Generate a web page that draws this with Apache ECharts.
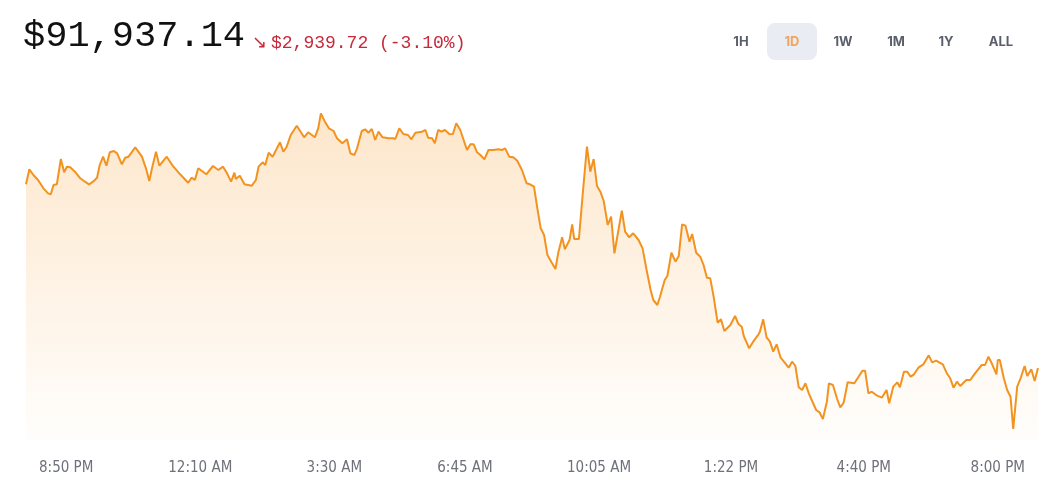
<!DOCTYPE html>
<html>
<head>
<meta charset="utf-8">
<script src="https://cdn.jsdelivr.net/npm/echarts@6/dist/echarts.min.js"></script>
<style>
html,body{margin:0;padding:0;background:#fff;}
#chart{width:1043px;height:490px;}
</style>
</head>
<body>
<div id="chart"></div>
<script>
// Minutes since 7:50 PM (start of the 1D window)
const minutes = [0,5,11,18,26,33,37,41,46,52,57,61,66,73,81,88,94,100,106,110,115,120,125,131,136,143,148,153,163,173,179,184,188,194,199,210,220,230,242,247,252,257,269,279,287,294,300,306,311,313,319,326,337,343,347,353,357,362,368,379,384,389,395,404,415,421,431,436,440,446,452,459,464,472,479,484,490,494,501,506,511,516,521,526,532,541,548,551,557,563,570,575,581,591,596,600,606,610,615,620,625,632,637,642,648,653,658,663,668,673,678,684,690,697,705,710,715,721,727,733,740,747,752,758,763,768,773,778,785,790,794,800,804,811,815,818,825,831,837,842,847,852,857,862,868,873,878,884,889,894,900,906,914,920,926,932,936,942,946,953,957,963,969,974,979,984,990,994,1000,1006,1011,1016,1021,1026,1032,1037,1042,1051,1058,1063,1068,1071,1079,1085,1093,1095,1100,1105,1110,1115,1120,1126,1133,1138,1143,1148,1153,1158,1163,1168,1173,1179,1184,1189,1195,1198,1204,1210,1215,1220,1226,1236,1248,1252,1257,1262,1270,1277,1284,1288,1294,1300,1304,1310,1315,1320,1325,1332,1339,1347,1352,1358,1368,1374,1379,1384,1389,1394,1403,1409,1416,1426,1431,1436,1441,1448,1450,1453,1459,1464,1469,1473,1479,1484,1490,1494,1500,1505,1510];
const prices = [94876.86,95117,95026,94946,94813,94733,94717,94866,94877,95282,95069,95159,95149,95079,94973,94919,94877,94919,94983,95186,95319,95175,95389,95410,95373,95197,95303,95319,95469,95319,95133,94930,95133,95399,95175,95319,95159,95037,94903,94983,94946,95133,95037,95170,95106,95159,95053,94919,95063,94962,95015,94877,94855,94946,95159,95229,95186,95383,95319,95549,95399,95479,95666,95815,95629,95709,95629,95773,96013,95879,95773,95730,95613,95533,95597,95373,95346,95453,95730,95757,95703,95762,95586,95719,95629,95613,95613,95602,95773,95682,95666,95597,95703,95719,95746,95623,95613,95533,95746,95719,95746,95677,95682,95853,95746,95586,95426,95517,95517,95389,95346,95277,95426,95426,95437,95426,95453,95319,95309,95255,95106,94893,94877,94839,94493,94173,94066,93746,93613,93522,93773,94029,93837,93986,94237,94002,94002,94759,95479,95079,95282,94850,94759,94610,94226,94359,93773,94146,94455,94119,94029,94093,93986,93853,93506,93186,93026,92946,93079,93346,93410,93783,93639,93730,94237,94215,93959,94082,93783,93719,93586,93383,93373,93079,92663,92717,92530,92626,92770,92642,92599,92450,92253,92359,92477,92519,92717,92429,92359,92199,92317,92103,92013,91943,92039,91970,91629,91586,91693,91533,91410,91266,91229,91122,91399,91693,91666,91453,91306,91383,91709,91693,91895,91895,91533,91559,91495,91463,91586,91373,91639,91709,91629,91879,91879,91799,91837,91949,91997,92141,92029,92055,91997,91853,91773,91623,91719,91650,91746,91746,91853,91986,91986,92119,92013,91837,92066,92066,91773,91586,91479,90962,91639,91773,91970,91810,91917,91730,91937.14];
const tickMinutes = [60,260,460,655,855,1052,1250,1450];
const tickLabels = ['8:50 PM','12:10 AM','3:30 AM','6:45 AM','10:05 AM','1:22 PM','4:40 PM','8:00 PM'];
const currentPrice = '$91,937.14';
const changeText = '$2,939.72 (-3.10%)';
const ranges = ['1H','1D','1W','1M','1Y','ALL'];
const activeRange = '1D';

const chart = echarts.init(document.getElementById('chart'), null, {renderer:'canvas'});
const seriesData = minutes.map((m,i)=>[m, prices[i]]);

const rangeX = [741,792,843,896,946,1001];
const graphics = [
  {type:'text', left:23, top:18, style:{text:currentPrice, font:'normal 37px "Liberation Mono", monospace', fill:'#111'}},
  {type:'text', left:252, top:34, style:{text:'\u2198', font:'normal 18px "DejaVu Sans", sans-serif', fill:'#c8283a'}},
  {type:'text', left:271, top:34, style:{text:changeText, font:'normal 18px "Liberation Mono", monospace', fill:'#c8283a'}},
  {type:'rect', shape:{x:767, y:23, width:50, height:37, r:8}, style:{fill:'#e9ecf2'}}
];
ranges.forEach((r,i)=>{
  graphics.push({type:'text', x:rangeX[i], y:42.5, style:{text:r, font:'bold 13px "Inter", "Noto Sans", sans-serif', fill: r===activeRange ? '#f0a55c' : '#5a5f6a', align:'center', verticalAlign:'middle'}});
});

chart.setOption({
  animation:false,
  backgroundColor:'#fff',
  grid:{left:26, right:5, top:113, bottom:50},
  xAxis:{
    type:'value', min:0, max:1510,
    axisLine:{show:false}, axisTick:{show:false}, splitLine:{show:false},
    axisLabel:{
      customValues:tickMinutes,
      margin:21,
      color:'#6e7179',
      fontFamily:'"DejaVu Sans Condensed", "Liberation Sans Narrow", "Liberation Sans", sans-serif',
      fontSize:15,
      formatter:function(v){const i=tickMinutes.indexOf(v);return i>=0?tickLabels[i]:'';}
    }
  },
  yAxis:{
    type:'value', min:90786, max:96018, show:false,
    splitLine:{show:false}
  },
  series:[{
    type:'line',
    data:seriesData,
    showSymbol:false,
    lineStyle:{color:'#f3931f', width:2},
    itemStyle:{color:'#f3931f'},
    areaStyle:{
      origin:'start',
      color:new echarts.graphic.LinearGradient(0,0,0,1,[
        {offset:0, color:'rgba(247,147,26,0.32)'},
        {offset:1, color:'rgba(247,147,26,0.02)'}
      ])
    }
  }],
  graphic:graphics
});
</script>
</body>
</html>
